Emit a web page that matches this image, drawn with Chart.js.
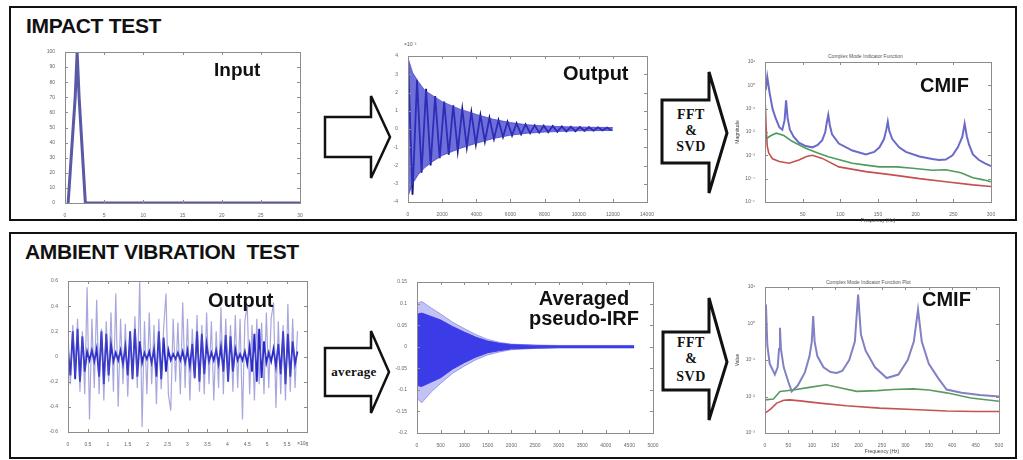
<!DOCTYPE html>
<html>
<head>
<meta charset="utf-8">
<script src="https://cdn.jsdelivr.net/npm/chart.js@4.4.1/dist/chart.umd.min.js"></script>
<style>
  html, body { margin: 0; padding: 0; background: #fff; }
  body { width: 1023px; height: 460px; position: relative; overflow: hidden; font-family: 'Liberation Sans', Arial, sans-serif; }
  .lbl { position: absolute; font-weight: bold; color: #111; white-space: pre; line-height: 1; }
  .tiny { position: absolute; font-size: 5px; color: #555; white-space: nowrap; line-height: 1; }
  .arrowtxt { position: absolute; font-family: 'Liberation Serif', 'DejaVu Serif', serif; font-weight: bold; color: #111; text-align: center; line-height: 1; }
  svg { position: absolute; left: 0; top: 0; }
</style>
</head>
<body>
<svg width="1023" height="460">
  <!-- panels -->
  <rect x="10" y="7" width="1006" height="213" fill="none" stroke="#111" stroke-width="2"/>
  <rect x="10" y="233" width="1006" height="225" fill="none" stroke="#111" stroke-width="2"/>
  <!-- impact: input -> output -->
  <path d="M325,117 L371,117 L371,96 L390,137 L371,178 L371,157 L325,157 Z" fill="#fff" stroke="#111" stroke-width="2.5"/>
  <!-- impact: FFT & SVD -->
  <path d="M662,100 L709,100 L709,72 L727,133 L709,193 L709,163 L662,163 Z" fill="#fff" stroke="#111" stroke-width="3"/>
  <!-- ambient: average -->
  <path d="M325,348 L371,348 L371,331 L389,372 L371,413 L371,396 L325,396 Z" fill="#fff" stroke="#111" stroke-width="2.5"/>
  <!-- ambient: FFT & SVD -->
  <path d="M663,332 L709,332 L709,298 L727,362 L709,420 L709,390 L663,390 Z" fill="#fff" stroke="#111" stroke-width="3"/>
</svg>

<div class="lbl" style="left:26px;top:15px;font-size:21px;letter-spacing:-0.3px;">IMPACT TEST</div>
<div class="lbl" style="left:25px;top:241px;font-size:21px;letter-spacing:-0.3px;">AMBIENT VIBRATION  TEST</div>

<div class="arrowtxt" style="left:666px;top:108px;width:50px;font-size:14px;letter-spacing:0.5px;">FFT</div>
<div class="arrowtxt" style="left:666px;top:124px;width:50px;font-size:14px;">&amp;</div>
<div class="arrowtxt" style="left:666px;top:140px;width:50px;font-size:14px;letter-spacing:0.5px;">SVD</div>
<div class="arrowtxt" style="left:666px;top:336px;width:50px;font-size:14px;letter-spacing:0.5px;">FFT</div>
<div class="arrowtxt" style="left:666px;top:352px;width:50px;font-size:14px;">&amp;</div>
<div class="arrowtxt" style="left:666px;top:370px;width:50px;font-size:14px;letter-spacing:0.5px;">SVD</div>
<div class="arrowtxt" style="left:320px;top:365px;width:68px;font-size:13px;letter-spacing:0.3px;">average</div>

<div class="tiny" style="left:404px;top:42px;">×10⁻³</div>
<div class="tiny" style="left:297px;top:441px;">×10⁴</div>
<div class="tiny" style="left:828px;top:54px;">Complex Mode Indicator Function</div>
<div class="tiny" style="left:826px;top:280px;">Complex Mode Indicator Function Plot</div>

<script>
// ---------- IMPACT TEST ----------
// input force pulse
const inputTime = [0.4, 0.85, 1.3, 1.55, 1.8, 2.2, 2.6, 30];
const inputForce = [0, 35, 70, 100, 70, 35, 0, 0];

// output: free decay, one sample per half cycle (x10^-3)
const outStep = 265;
const outResp = [3.9, -3.6, 2.7, -2.4, 2.2, -2.0, 1.8, -1.6, 1.5, -1.4,
  1.3, -1.2, 1.1, -1.0, 0.92, -0.84, 0.76, -0.68, 0.61, -0.55,
  0.49, -0.44, 0.4, -0.36, 0.32, -0.29, 0.26, -0.23, 0.21, -0.2,
  0.18, -0.17, 0.16, -0.15, 0.14, -0.13, 0.12, -0.12, 0.11, -0.1,
  0.1, -0.09, 0.09, -0.08, 0.08, -0.08];
const outEnvT = [0, 265, 600, 1000, 1500, 2000, 3000, 4000, 5000, 6000, 7000, 8000, 9000, 10000, 11000, 12000];
const outEnvUp = [3.9, 3.1, 2.6, 2.1, 1.8, 1.5, 1.1, 0.8, 0.53, 0.35, 0.23, 0.17, 0.13, 0.11, 0.09, 0.08];
const outEnvLo = [-3.7, -3.0, -2.5, -2.1, -1.75, -1.45, -1.08, -0.78, -0.52, -0.34, -0.23, -0.17, -0.13, -0.1, -0.09, -0.08];

// CMIF from impact test
const impBlueF = [1, 3, 6, 10, 14, 19, 23, 26, 28, 30, 33, 38, 45, 54, 63, 70, 76, 80, 82, 84, 86, 89, 98, 116, 134, 145, 152, 158, 161, 163, 165, 169, 178, 187, 205, 222, 231, 240, 249, 256, 262, 265, 268, 271, 276, 284, 292, 300];
const impBlue = [0.63, 2.3, 0.5, 0.1, 0.04, 0.016, 0.0126, 0.032, 0.23, 0.04, 0.0126, 0.0063, 0.0035, 0.0025, 0.0022, 0.0028, 0.0045, 0.01, 0.025, 0.054, 0.02, 0.0079, 0.0032, 0.0016, 0.0011, 0.0014, 0.0022, 0.005, 0.0126, 0.028, 0.011, 0.005, 0.0022, 0.0014, 0.00089, 0.0007, 0.00063, 0.00066, 0.001, 0.0022, 0.0063, 0.023, 0.0063, 0.0028, 0.0011, 0.00063, 0.00045, 0.00035];
const impGreenF = [1, 8, 15, 25, 36, 54, 70, 84, 100, 116, 134, 152, 175, 196, 222, 240, 260, 276, 290, 300];
const impGreen = [0.005, 0.0071, 0.0089, 0.0071, 0.004, 0.002, 0.00126, 0.00087, 0.00063, 0.00046, 0.00038, 0.00032, 0.00032, 0.00028, 0.00023, 0.00024, 0.00018, 0.00011, 0.000089, 0.000074];
const impRedF = [0.5, 1.5, 3, 5, 10, 19, 32, 45, 55, 63, 76, 98, 134, 169, 205, 240, 276, 300];
const impRed = [0.14, 0.016, 0.0025, 0.00123, 0.00071, 0.00054, 0.00046, 0.00063, 0.00089, 0.001, 0.00074, 0.00032, 0.0002, 0.000145, 0.0001, 0.000074, 0.000054, 0.000046];

// ---------- AMBIENT VIBRATION TEST ----------
// measured response (x axis in 10^4 samples)
const ambStep = 0.06;
const ambLight = [0.18, -0.22, 0.25, -0.15, 0.3, -0.28, 0.2, -0.3, 0.55, -0.5,
  0.3, -0.25, 0.45, -0.3, 0.22, -0.35, 0.28, -0.2, 0.35, -0.28,
  0.5, -0.4, 0.3, -0.22, 0.26, -0.32, 0.2, -0.18, 0.32, -0.25,
  0.6, -0.56, 0.28, -0.3, 0.35, -0.22, 0.25, -0.38, 0.3, -0.26,
  0.22, 0.5, -0.3, -0.43, 0.3, -0.2, 0.27, -0.3, 0.43, -0.25,
  0.3, -0.35, 0.22, -0.18, 0.33, -0.28, 0.25, -0.3, 0.35, -0.22,
  0.28, -0.35, 0.2, -0.25, 0.39, -0.3, 0.3, -0.2, 0.25, -0.28,
  0.33, -0.25, 0.3, -0.5, 0.28, 0.41, -0.3, 0.25, -0.35, 0.3,
  -0.22, 0.27, -0.3, 0.35, -0.25, 0.3, 0.43, -0.41, 0.28, -0.3,
  0.25, -0.35, 0.42, -0.28, 0.3, -0.25, 0.2];
const ambDark = [0.05, -0.15, 0.2, -0.18, 0.22, -0.2, 0.16, -0.12, 0.04, -0.03,
  0.05, -0.04, 0.06, -0.16, 0.2, -0.22, 0.18, -0.15, 0.1, -0.04,
  0.03, -0.03, 0.05, -0.06, 0.08, -0.15, 0.2, -0.18, 0.22, -0.16,
  0.12, -0.05, 0.03, -0.02, 0.04, -0.05, 0.06, -0.16, 0.2, -0.18,
  0.15, -0.12, 0.05, -0.03, 0.02, -0.02, 0.03, -0.03, 0.04, -0.05,
  0.05, -0.08, 0.1, -0.17, 0.2, -0.2, 0.18, -0.14, 0.1, -0.04,
  0.03, -0.03, 0.05, -0.06, 0.08, -0.12, 0.17, -0.2, 0.16, -0.12,
  0.06, -0.03, 0.02, -0.03, 0.04, -0.06, 0.08, -0.12, 0.18, -0.2,
  0.22, -0.17, 0.12, -0.05, 0.03, -0.04, 0.06, -0.08, 0.1, -0.14,
  0.2, -0.22, 0.18, -0.16, 0.12, -0.06, 0.04];

// averaged pseudo impulse response: envelopes of the dense trace
const irfT = [0, 100, 300, 500, 750, 1000, 1250, 1500, 1750, 2000, 2500, 3000, 4000, 4600];
const irfHaloUp = [0.1, 0.105, 0.09, 0.076, 0.057, 0.042, 0.028, 0.017, 0.01, 0.006, 0.004, 0.003, 0.003, 0.003];
const irfCoreUp = [0.075, 0.078, 0.07, 0.062, 0.047, 0.034, 0.022, 0.013, 0.008, 0.005, 0.003, 0.002, 0.002, 0.002];
const irfCoreLo = [-0.09, -0.092, -0.082, -0.072, -0.052, -0.037, -0.024, -0.014, -0.009, -0.005, -0.003, -0.002, -0.002, -0.002];
const irfHaloLo = [-0.12, -0.13, -0.105, -0.085, -0.062, -0.045, -0.03, -0.019, -0.012, -0.007, -0.004, -0.003, -0.003, -0.003];

// CMIF from pseudo-IRF
const avBlueF = [0, 2, 5, 10, 21, 27, 30, 32, 34, 40, 50, 57, 70, 85, 95, 100, 103, 106, 112, 125, 140, 153, 165, 180, 192, 199, 205, 215, 235, 260, 285, 305, 318, 327, 335, 350, 370, 388, 420, 459, 500];
const avBlue = [0.5, 3.3, 0.25, 0.079, 0.04, 0.063, 0.2, 0.76, 0.2, 0.063, 0.025, 0.0138, 0.02, 0.045, 0.126, 0.32, 1.6, 0.32, 0.126, 0.063, 0.047, 0.044, 0.05, 0.1, 0.32, 6.2, 0.5, 0.18, 0.063, 0.032, 0.04, 0.1, 0.32, 2.4, 0.32, 0.079, 0.032, 0.0155, 0.0126, 0.011, 0.01];
const avGreenF = [0, 18, 32, 60, 95, 131, 160, 196, 240, 274, 316, 350, 388, 440, 500];
const avGreen = [0.0081, 0.0085, 0.0138, 0.015, 0.0178, 0.021, 0.0174, 0.0138, 0.0145, 0.0155, 0.0162, 0.0151, 0.0126, 0.0091, 0.0074];
const avRedF = [0, 12, 25, 40, 53, 75, 117, 174, 245, 316, 388, 450, 500];
const avRed = [0.0035, 0.0045, 0.0066, 0.0079, 0.0081, 0.0076, 0.0066, 0.0056, 0.0048, 0.0044, 0.004, 0.0039, 0.0039];

// ---------- helpers ----------
const pts = (xs, ys) => ys.map((y, i) => ({ x: xs[i], y }));
const stepPts = (step, ys) => ys.map((y, i) => ({ x: i * step, y }));
const SUP = { '-': '⁻', '0': '⁰', '1': '¹', '2': '²', '3': '³', '4': '⁴', '5': '⁵' };
const pow10 = v => '10' + String(Math.round(Math.log10(v))).split('').map(c => SUP[c]).join('');
const decades = (lo, hi) => scale => {
  const t = [];
  for (let e = lo; e <= hi; e++) t.push({ value: Math.pow(10, e) });
  scale.ticks = t;
};

// MATLAB style box with inward ticks
const boxFrame = {
  id: 'boxFrame',
  afterDatasetsDraw(chart) {
    const { ctx, chartArea: a, scales: { x, y } } = chart;
    ctx.save();
    ctx.strokeStyle = '#8c8c8c';
    ctx.lineWidth = 1;
    ctx.beginPath();
    x.ticks.forEach(t => {
      const px = Math.round(x.getPixelForValue(t.value)) + 0.5;
      ctx.moveTo(px, a.bottom); ctx.lineTo(px, a.bottom - 3);
      ctx.moveTo(px, a.top); ctx.lineTo(px, a.top + 3);
    });
    y.ticks.forEach(t => {
      const py = Math.round(y.getPixelForValue(t.value)) + 0.5;
      ctx.moveTo(a.left, py); ctx.lineTo(a.left + 3, py);
      ctx.moveTo(a.right, py); ctx.lineTo(a.right - 3, py);
    });
    ctx.stroke();
    ctx.strokeRect(Math.round(a.left) + 0.5, Math.round(a.top) + 0.5, Math.round(a.width), Math.round(a.height));
    ctx.restore();
  }
};

const tickFont = { size: 5, family: 'Liberation Sans' };

function plot(frame, datasets, xs, ys) {
  const padL = 30, padT = 14, padR = 14, padB = 22;
  const cv = document.createElement('canvas');
  cv.width = frame.r - frame.l + padL + padR;
  cv.height = frame.b - frame.t + padT + padB;
  cv.style.cssText = 'position:absolute;left:' + (frame.l - padL) + 'px;top:' + (frame.t - padT) + 'px;';
  document.body.appendChild(cv);
  const axis = (o, isX) => ({
    type: o.type || 'linear',
    min: o.min, max: o.max,
    grid: { display: false },
    border: { display: false },
    afterFit: s => { if (isX) s.height = padB; else s.width = padL; },
    afterBuildTicks: o.afterBuildTicks,
    title: o.title ? { display: true, text: o.title, font: { size: 5, family: 'Liberation Sans' }, color: '#444', padding: 0 } : { display: false },
    ticks: {
      stepSize: o.step, font: tickFont, color: '#666', padding: 2,
      maxRotation: 0, autoSkip: false,
      callback: o.fmt || (v => v)
    }
  });
  return new Chart(cv, {
    type: 'line',
    data: { datasets: datasets.map(d => Object.assign({ pointRadius: 0, tension: 0, fill: false }, d)) },
    options: {
      responsive: false, animation: false, events: [],
      layout: { padding: { top: padT, right: padR, left: 0, bottom: 0 } },
      plugins: { legend: { display: false }, tooltip: { enabled: false } },
      scales: { x: axis(xs, true), y: axis(ys, false) }
    },
    plugins: [boxFrame]
  });
}

// ---------- charts ----------
plot({ l: 65, t: 52, r: 300, b: 203 }, [
  { data: pts(inputTime, inputForce), borderColor: 'rgba(60,60,150,0.85)', borderWidth: 3 }
], { min: 0, max: 30, step: 5 }, { min: 0, max: 100, step: 10 });

plot({ l: 408, t: 56, r: 647, b: 202 }, [
  { data: pts(outEnvT, outEnvUp), borderColor: 'rgba(60,60,205,0.7)', borderWidth: 1, fill: '+1', backgroundColor: 'rgba(55,55,205,0.72)' },
  { data: pts(outEnvT, outEnvLo), borderColor: 'rgba(60,60,205,0.7)', borderWidth: 1 },
  { data: stepPts(outStep, outResp), borderColor: '#101078', borderWidth: 1.8 }
], { min: 0, max: 14000, step: 2000 }, { min: -4, max: 4, step: 1 });

plot({ l: 765, t: 62, r: 991, b: 202 }, [
  { data: pts(impGreenF, impGreen), borderColor: '#4f9a5c', borderWidth: 1.6 },
  { data: pts(impRedF, impRed), borderColor: '#c4504f', borderWidth: 1.6 },
  { data: pts(impBlueF, impBlue), borderColor: '#6a6ac8', borderWidth: 2 }
], { min: 0, max: 300, step: 50, title: 'Frequency (Hz)', fmt: v => (v === 0 ? '' : v) },
   { type: 'logarithmic', min: 1e-5, max: 10, afterBuildTicks: decades(-5, 1), fmt: pow10, title: 'Magnitude' });

plot({ l: 68, t: 281, r: 307, b: 432 }, [
  { data: stepPts(ambStep, ambLight), borderColor: 'rgba(95,95,195,0.55)', borderWidth: 1.2 },
  { data: stepPts(ambStep, ambDark), borderColor: 'rgba(18,18,200,0.92)', borderWidth: 1.8 }
], { min: 0, max: 6, step: 0.5 }, { min: -0.6, max: 0.6, step: 0.2, fmt: v => +v.toFixed(1) });

plot({ l: 417, t: 282, r: 653, b: 433 }, [
  { data: pts(irfT, irfHaloUp), borderColor: 'rgba(110,110,230,0.6)', borderWidth: 1, fill: '+3', backgroundColor: 'rgba(120,120,235,0.45)' },
  { data: pts(irfT, irfCoreUp), borderColor: '#0a0ae0', borderWidth: 1, fill: '+1', backgroundColor: '#0a0ae6' },
  { data: pts(irfT, irfCoreLo), borderColor: '#0a0ae0', borderWidth: 1 },
  { data: pts(irfT, irfHaloLo), borderColor: 'rgba(110,110,230,0.6)', borderWidth: 1 }
], { min: 0, max: 5000, step: 500 }, { min: -0.2, max: 0.15, step: 0.05, fmt: v => +v.toFixed(2) });

plot({ l: 765, t: 287, r: 999, b: 433 }, [
  { data: pts(avGreenF, avGreen), borderColor: '#5a9a5e', borderWidth: 1.6 },
  { data: pts(avRedF, avRed), borderColor: '#c25452', borderWidth: 1.6 },
  { data: pts(avBlueF, avBlue), borderColor: '#8181c4', borderWidth: 2 }
], { min: 0, max: 500, step: 50, title: 'Frequency (Hz)' },
   { type: 'logarithmic', min: 1e-3, max: 10, afterBuildTicks: decades(-3, 1), fmt: pow10, title: 'Value' });
</script>

<div class="lbl" style="left:214px;top:60px;font-size:19px;">Input</div>
<div class="lbl" style="left:563px;top:63px;font-size:20px;">Output</div>
<div class="lbl" style="left:920px;top:75px;font-size:20px;">CMIF</div>
<div class="lbl" style="left:208px;top:290px;font-size:20px;">Output</div>
<div class="lbl" style="left:523px;top:288px;width:122px;font-size:20px;line-height:20px;text-align:center;white-space:normal;">Averaged pseudo-IRF</div>
<div class="lbl" style="left:922px;top:289px;font-size:20px;">CMIF</div>
</body>
</html>
